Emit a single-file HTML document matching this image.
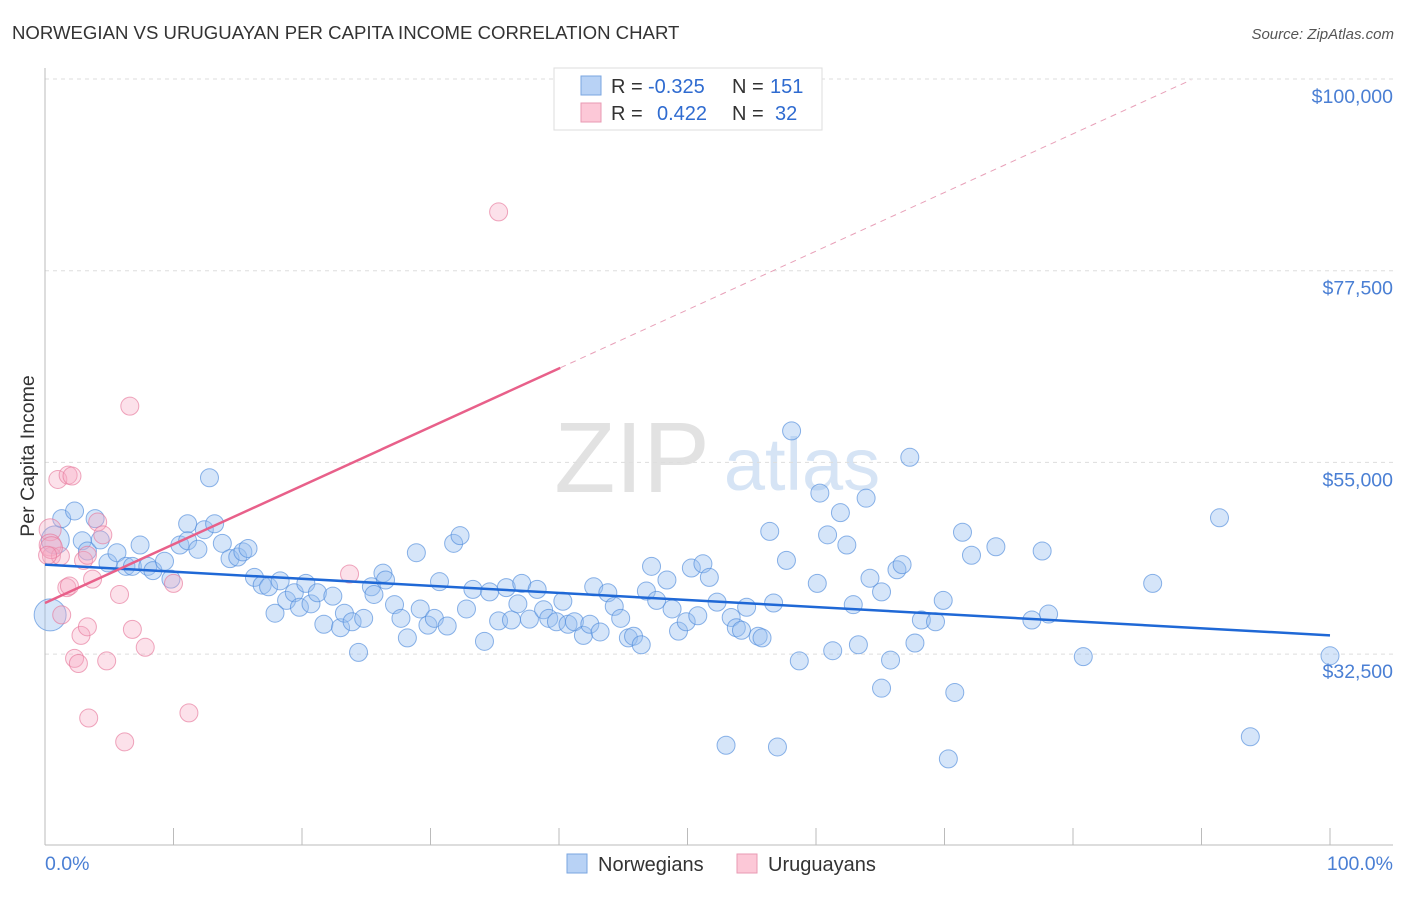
<!DOCTYPE html>
<html><head><meta charset="utf-8"><style>
body{margin:0;background:#fff;font-family:"Liberation Sans",sans-serif}
svg text{font-family:"Liberation Sans",sans-serif}
</style></head><body>
<svg id="chart" width="1406" height="892" viewBox="0 0 1406 892">
<text x="12" y="39" font-size="18.6" fill="#333">NORWEGIAN VS URUGUAYAN PER CAPITA INCOME CORRELATION CHART</text>
<text x="1394" y="39" font-size="15" fill="#555" font-style="italic" text-anchor="end">Source: ZipAtlas.com</text>
<g>
<text x="632" y="492" font-size="100" font-family="Liberation Serif,serif" fill="#e2e2e2" text-anchor="middle">ZIP</text>
<text x="802" y="490" font-size="74" fill="#d6e4f5" text-anchor="middle">atlas</text>
</g>
<g id="grid"></g>
<g id="axes"></g>
<g id="marks"></g>
<g id="trends"></g>
<text x="34" y="456" font-size="19.5" fill="#333" text-anchor="middle" transform="rotate(-90 34 456)">Per Capita Income</text>
<text x="45" y="870" font-size="19.5" fill="#4a7fd4">0.0%</text>
<text x="1393" y="870" font-size="19.5" fill="#4a7fd4" text-anchor="end">100.0%</text>
<g>
<rect x="554" y="68" width="268" height="62" fill="#fff" stroke="#ddd"/>
<rect x="581" y="76" width="20" height="19" fill="#b8d2f5" stroke="#7aa6e0"/>
<rect x="581" y="103" width="20" height="19" fill="#fcc8d7" stroke="#e89ab3"/>
<text y="93" font-size="20" fill="#333"><tspan x="611">R =</tspan><tspan x="648" fill="#2f6bd0">-0.325</tspan><tspan x="732">N =</tspan><tspan x="770" fill="#2f6bd0">151</tspan></text>
<text y="120" font-size="20" fill="#333"><tspan x="611">R =</tspan><tspan x="657" fill="#2f6bd0">0.422</tspan><tspan x="732">N =</tspan><tspan x="775" fill="#2f6bd0">32</tspan></text>
</g>
<g>
<rect x="567" y="854" width="20" height="19" fill="#b8d2f5" stroke="#7aa6e0"/>
<text x="598" y="871" font-size="20" fill="#333">Norwegians</text>
<rect x="737" y="854" width="20" height="19" fill="#fcc8d7" stroke="#e89ab3"/>
<text x="768" y="871" font-size="20" fill="#333">Uruguayans</text>
</g>
</svg>
<script>
const yTicks=[100000,77500,55000,32500];
const yTickLabels=["$100,000","$77,500","$55,000","$32,500"];
const xTicks=[0,10,20,30,40,50,60,70,80,90,100];
const blueX=[0.4,0.8,1.3,2.3,2.9,3.3,3.9,4.3,4.9,5.6,6.3,6.8,7.4,8.0,8.4,9.3,9.8,10.5,11.1,11.1,11.9,12.4,12.8,13.2,13.8,14.4,15.0,15.4,15.8,16.3,16.9,17.4,17.9,18.3,18.8,19.4,19.8,20.3,20.7,21.2,21.7,22.4,23.0,23.3,23.9,24.4,24.8,25.4,25.6,26.3,26.5,27.2,27.7,28.2,28.9,29.2,29.8,30.3,30.7,31.3,31.8,32.3,32.8,33.3,34.2,34.6,35.3,35.9,36.3,36.8,37.1,37.7,38.3,38.8,39.2,39.8,40.3,40.7,41.2,41.9,42.4,42.7,43.2,43.8,44.3,44.8,45.4,45.8,46.4,46.8,47.2,47.6,48.4,48.8,49.3,49.9,50.3,50.8,51.2,51.7,52.3,53.0,53.4,53.8,54.2,54.6,55.5,55.8,56.4,56.7,57.0,57.7,58.1,58.7,60.1,60.3,60.9,61.3,61.9,62.4,62.9,63.3,63.9,64.2,65.1,65.1,65.8,66.3,66.7,67.3,67.7,68.2,69.3,69.9,70.3,70.8,71.4,72.1,74.0,76.8,77.6,78.1,80.8,86.2,91.4,93.8,100];
const blueY=[37.1,45.9,48.4,49.3,45.8,44.6,48.4,45.9,43.2,44.4,42.8,42.8,45.3,42.8,42.3,43.4,41.3,45.3,47.8,45.8,44.8,47.1,53.2,47.8,45.5,43.7,43.9,44.5,44.9,41.5,40.6,40.4,37.3,41.1,38.8,39.7,38.0,40.8,38.4,39.7,36.0,39.3,35.6,37.3,36.3,32.7,36.7,40.4,39.5,42.0,41.2,38.3,36.7,34.4,44.4,37.8,35.9,36.7,41.0,35.8,45.5,46.4,37.8,40.1,34.0,39.8,36.4,40.3,36.5,38.4,40.8,36.6,40.1,37.7,36.7,36.3,38.7,36.0,36.3,34.7,36.0,40.4,35.1,39.7,38.1,36.7,34.4,34.6,33.6,39.9,42.8,38.8,41.2,37.8,35.2,36.3,42.6,37.0,43.1,41.5,38.6,21.8,36.8,35.6,35.3,38.0,34.6,34.4,46.9,38.5,21.6,43.5,58.7,31.7,40.8,51.4,46.5,32.9,49.1,45.3,38.3,33.6,50.8,41.4,39.8,28.5,31.8,42.4,43.0,55.6,33.8,36.5,36.3,38.8,20.2,28.0,46.8,44.1,45.1,36.5,44.6,37.2,32.2,40.8,48.5,22.8,32.3];
const pinkX=[0.4,0.4,0.5,1.0,1.2,1.3,1.8,2.1,1.7,1.9,2.3,2.6,2.8,3.0,3.3,3.4,3.7,4.1,4.5,4.8,5.8,6.2,6.6,6.8,7.8,10.0,11.2,23.7,35.3,0.5,0.2,3.3];
const pinkY=[47.1,45.3,44.0,53.0,44.0,37.1,53.5,53.4,40.3,40.5,32.0,31.4,34.7,43.5,35.7,25.0,41.3,48.0,46.5,31.7,39.5,22.2,61.6,35.4,33.3,40.8,25.6,41.9,84.4,45.0,44.1,44.1];
const blueTrendX=[0,100], blueTrendY=[43.0,34.7];
const pinkTrendX=[0,40.1,89.2], pinkTrendY=[38.5,66.1,99.9];

const NS="http://www.w3.org/2000/svg";
const X0=45,X1=1330,Y100=79,PXK=191.7/22.5;
const sx=v=>X0+(X1-X0)*v/100;
const sy=k=>Y100+(100-k)*PXK;
function mk(tag,at,parent){const e=document.createElementNS(NS,tag);for(const k in at)e.setAttribute(k,at[k]);parent.appendChild(e);return e;}
const grid=document.getElementById('grid'),axes=document.getElementById('axes'),marks=document.getElementById('marks'),trends=document.getElementById('trends');
yTicks.forEach((t,i)=>{
 const y=sy(t/1000);
 const l=mk('line',{x1:X0,x2:1393,y1:y,y2:y,stroke:'#ddd','stroke-dasharray':'4,4'},grid);
 
 
 const tx=mk('text',{x:1393,y:y+24,'font-size':19.5,fill:'#4a7fd4','text-anchor':'end'},axes);
 tx.textContent=yTickLabels[i];
 
 
});
let a=mk('line',{x1:X0,x2:X0,y1:68,y2:845,stroke:'#bbb'},axes);


a=mk('line',{x1:X0,x2:1393,y1:845,y2:845,stroke:'#bbb'},axes);


xTicks.forEach(t=>{const l=mk('line',{x1:sx(t),x2:sx(t),y1:828,y2:845,stroke:'#bbb'},axes);
 
 });
blueX.forEach((v,i)=>{const r=i===0?16:(i===1?14:9);
 const c=mk('circle',{cx:sx(v),cy:sy(blueY[i]),r:r,fill:'rgba(150,190,240,0.4)',stroke:'rgba(80,140,220,0.65)','stroke-width':1},marks);
 
 });
pinkX.forEach((v,i)=>{const r=(i===0||i===1||i===29)?11:9;
 const c=mk('circle',{cx:sx(v),cy:sy(pinkY[i]),r:r,fill:'rgba(245,170,195,0.35)',stroke:'rgba(230,120,155,0.65)','stroke-width':1},marks);
 
 });
let t=mk('line',{x1:sx(blueTrendX[0]),y1:sy(blueTrendY[0]),x2:sx(blueTrendX[1]),y2:sy(blueTrendY[1]),stroke:'#1f68d6','stroke-width':2.5},trends);


t=mk('line',{x1:sx(pinkTrendX[0]),y1:sy(pinkTrendY[0]),x2:sx(pinkTrendX[1]),y2:sy(pinkTrendY[1]),stroke:'#e8608a','stroke-width':2.5},trends);


t=mk('line',{x1:sx(pinkTrendX[1]),y1:sy(pinkTrendY[1]),x2:sx(pinkTrendX[2]),y2:sy(pinkTrendY[2]),stroke:'#e8a0b8','stroke-width':1,'stroke-dasharray':'6,5'},trends);


</script>
</body></html>
